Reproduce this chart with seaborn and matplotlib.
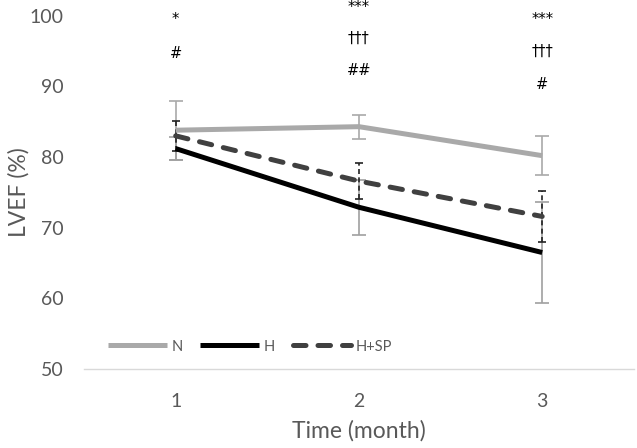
import numpy as np
import pandas as pd
import seaborn as sns
from matplotlib import pyplot as plt

months = [1, 2, 3]
groups = ["N", "H", "H+SP"]
n_mean = [83.8, 84.3, 80.2]
n_err = [4.2, 1.7, 2.8]
h_mean = [81.2, 72.9, 66.5]
h_err = [1.6, 3.9, 7.1]
hsp_mean = [83.0, 76.6, 71.6]
hsp_err = [2.1, 2.6, 3.6]

# significance marks above each month
sig_text = [["*", "#"], ["***", "†††", "##"], ["***", "†††", "#"]]
sig_y = [[99.4, 94.7], [101.2, 96.8, 92.3], [99.4, 94.9, 90.3]]

df = pd.DataFrame({
    "month": months * 3,
    "group": [g for g in groups for _ in months],
    "lvef": n_mean + h_mean + hsp_mean,
})
df["pos"] = df["month"] - 1

sns.set_style("white")
plt.rcParams["font.family"] = ["Lato", "DejaVu Sans"]

colors = {"N": "#a9a9a9", "H": "#000000", "H+SP": "#404040"}
dashes = {"N": "", "H": "", "H+SP": (2.5, 2.4)}

fig = plt.figure(figsize=(6.37, 4.48), dpi=100)
ax = fig.add_axes([0.132, 0.176, 0.863, 0.789])

# error bars first so the lines sit on top
x = np.arange(len(months))
ax.errorbar(x, n_mean, yerr=n_err, fmt="none", ecolor="#a9a9a9", elinewidth=1.2, capsize=5, capthick=1.2, zorder=1)
ax.errorbar(x, h_mean, yerr=h_err, fmt="none", ecolor="#a0a0a0", elinewidth=1.2, capsize=5, capthick=1.2, zorder=1)
eb = ax.errorbar(x, hsp_mean, yerr=hsp_err, fmt="none", ecolor="#222222", elinewidth=1.2, capsize=3, capthick=1.2, zorder=1)
eb[2][0].set_linestyle((0, (3, 2)))

sns.lineplot(data=df, x="pos", y="lvef", hue="group", style="group", palette=colors,
             dashes=dashes, linewidth=3.6, ax=ax, legend=True, zorder=3)
for line in ax.get_lines():
    line.set_solid_capstyle("butt")
    line.set_dash_capstyle("round")

for i in range(len(months)):
    for t, yv in zip(sig_text[i], sig_y[i]):
        ax.text(i, yv, t, ha="center", va="center", fontsize=10.5, color="#000000",
                family=["DejaVu Sans"], clip_on=False)

ax.set_xlim(-0.5, 2.5)
ax.set_ylim(50, 100)
ax.set_xticks(x)
ax.set_xticklabels([str(m) for m in months])
ax.set_yticks([50, 60, 70, 80, 90, 100])
ax.tick_params(axis="both", length=0, labelsize=14, colors="#595959")
ax.tick_params(axis="y", pad=15)
ax.tick_params(axis="x", pad=17)
ax.set_xlabel("Time (month)", fontsize=16.5, color="#595959")
ax.set_ylabel("LVEF (%)", fontsize=16.5, color="#595959")
ax.xaxis.set_label_coords(0.5, -0.145)
ax.yaxis.set_label_coords(-0.1, 0.5)
for s in ["top", "right", "left"]:
    ax.spines[s].set_visible(False)
ax.spines["bottom"].set_color("#d9d9d9")
ax.spines["bottom"].set_linewidth(1.0)

leg = ax.legend(ncol=3, loc="center left", bbox_to_anchor=(0.02, 0.064), frameon=False,
                handlelength=4.0, handletextpad=0.35, columnspacing=1.2, fontsize=10.5)
for t in leg.get_texts():
    t.set_color("#595959")
for h in leg.get_lines():
    h.set_linewidth(3.6)

fig.savefig("out.png", dpi=100)
